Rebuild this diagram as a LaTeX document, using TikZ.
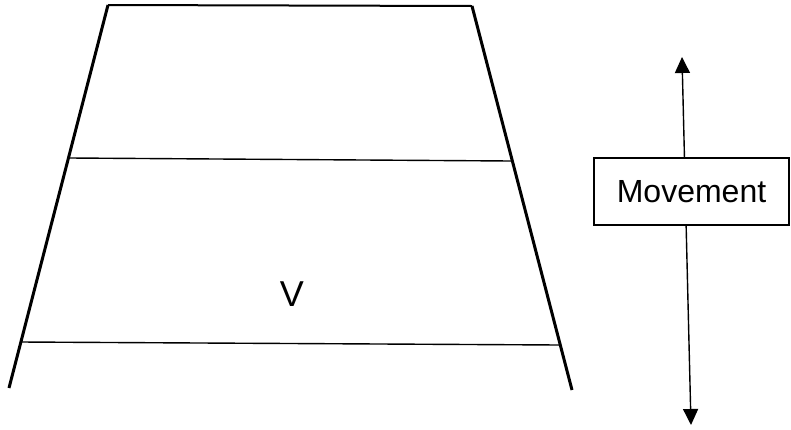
\documentclass[tikz,border=0pt]{standalone}
\usepackage{fontspec}
\setmainfont{Liberation Sans}
\usetikzlibrary{arrows.meta}

\begin{document}
\begin{tikzpicture}[x=1pt,y=-1pt,
   side/.style={line width=3pt},
   rung/.style={line width=1.4pt},
   mbox/.style={draw,line width=1.4pt,fill=white,minimum width=195pt,minimum height=67pt,
                inner sep=0pt,font=\fontsize{32}{36}\selectfont}]
  \useasboundingbox (0,0) rectangle (791,429);
  % trapezoid corners
  \coordinate (lt) at (108,5);
  \coordinate (lb) at (9,388);
  \coordinate (rt) at (472,6);
  \coordinate (rb) at (572,390);
  \draw[side] (lt) -- (lb);
  \draw[side] (rt) -- (rb);
  % cross lines
  \coordinate (m1) at (70,158);
  \coordinate (m2) at (511,161);
  \coordinate (l1) at (21,342);
  \coordinate (l2) at (560,345);
  \draw[line width=2pt] (lt) -- (rt);
  \draw[rung] (m1) -- (m2);
  \draw[rung] (l1) -- (l2);
  \node[font=\fontsize{36}{40}\selectfont] (v) at (292,294) {V};
  % movement arrow
  \coordinate (up) at (682,57);
  \coordinate (dn) at (691,425);
  \draw[{Triangle[length=16pt,width=15pt]}-{Triangle[length=16pt,width=15pt]},line width=1.4pt] (dn) -- (up);
  \node[mbox] (mv) at (691.5,191.5) {Movement};
\end{tikzpicture}
\end{document}
